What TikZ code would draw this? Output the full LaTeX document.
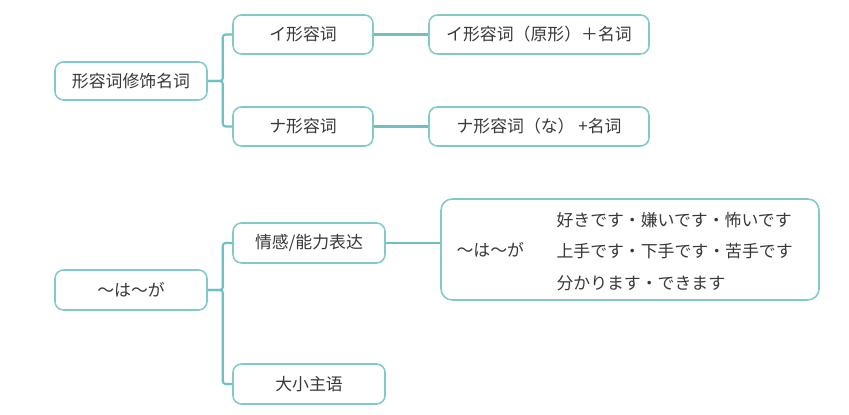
\documentclass[tikz,border=0pt]{standalone}
\usepackage{fontspec}
\setmainfont{Noto Sans CJK SC}
\usetikzlibrary{positioning}

\definecolor{tealline}{HTML}{6FC0C2}
\definecolor{tealbox}{HTML}{82C9CB}
\definecolor{textgray}{HTML}{383838}

\begin{document}
\begin{tikzpicture}[
    topic/.style={draw=tealbox,line width=1.1pt,rounded corners=6pt,fill=white,
      text=textgray,font=\fontsize{12}{14}\selectfont,inner sep=0pt},
    link/.style={draw=tealline,line width=1.5pt,rounded corners=2pt}
  ]
    \useasboundingbox[fill=white] (0,0) rectangle (21.225,-10.375);

    \node[topic,minimum width=3.8cm,minimum height=0.95cm] (adj) at (3.275,-2.025) {形容词修饰名词};
    \node[topic,minimum width=3.5cm,minimum height=0.975cm] (iadj) at (7.575,-0.8625) {イ形容词};
    \node[topic,minimum width=3.5cm,minimum height=0.975cm] (naadj) at (7.575,-3.1625) {ナ形容词};
    \node[topic,minimum width=5.5cm,minimum height=0.975cm] (iform) at (13.475,-0.8625) {イ形容词（原形）＋名词};
    \node[topic,minimum width=5.5cm,minimum height=0.975cm] (naform) at (13.475,-3.1625) {ナ形容词（な） +名词};

    \node[topic,minimum width=3.8cm,minimum height=1cm] (waga) at (3.275,-7.25) {～は～が};
    \node[topic,minimum width=3.8cm,minimum height=1cm] (feel) at (7.725,-6.075) {情感/能力表达};
    \node[topic,minimum width=3.8cm,minimum height=1cm] (subj) at (7.725,-9.6) {大小主语};
    \node[topic,minimum width=9.45cm,minimum height=2.525cm,rounded corners=8pt] (usage) at (15.75,-6.2375) {};
    \node[text=textgray,font=\fontsize{12}{14}\selectfont,anchor=west,inner sep=0pt]
      (usagek) at ([xshift=0.4cm]usage.west) {～は～が};
    \node[text=textgray,font=\fontsize{12}{22.5}\selectfont,align=left,anchor=west,inner sep=0pt]
      (usagel) at ([xshift=2.9cm,yshift=-0.05cm]usage.west) {好きです・嫌いです・怖いです\\上手です・下手です・苦手です\\分かります・できます};

    \path[link] (adj.east) -- ++(0.375,0) |- (iadj.west);
    \path[link] (adj.east) -- ++(0.375,0) |- (naadj.west);
    \path[link] (iadj.east) -- (iform.west);
    \path[link] (naadj.east) -- (naform.west);
    \path[link] (waga.east) -- ++(0.375,0) |- (feel.west);
    \path[link] (waga.east) -- ++(0.375,0) |- (subj.west);
    \path[link] (feel.east) -- (feel.east -| usage.west);
  \end{tikzpicture}
\end{document}
